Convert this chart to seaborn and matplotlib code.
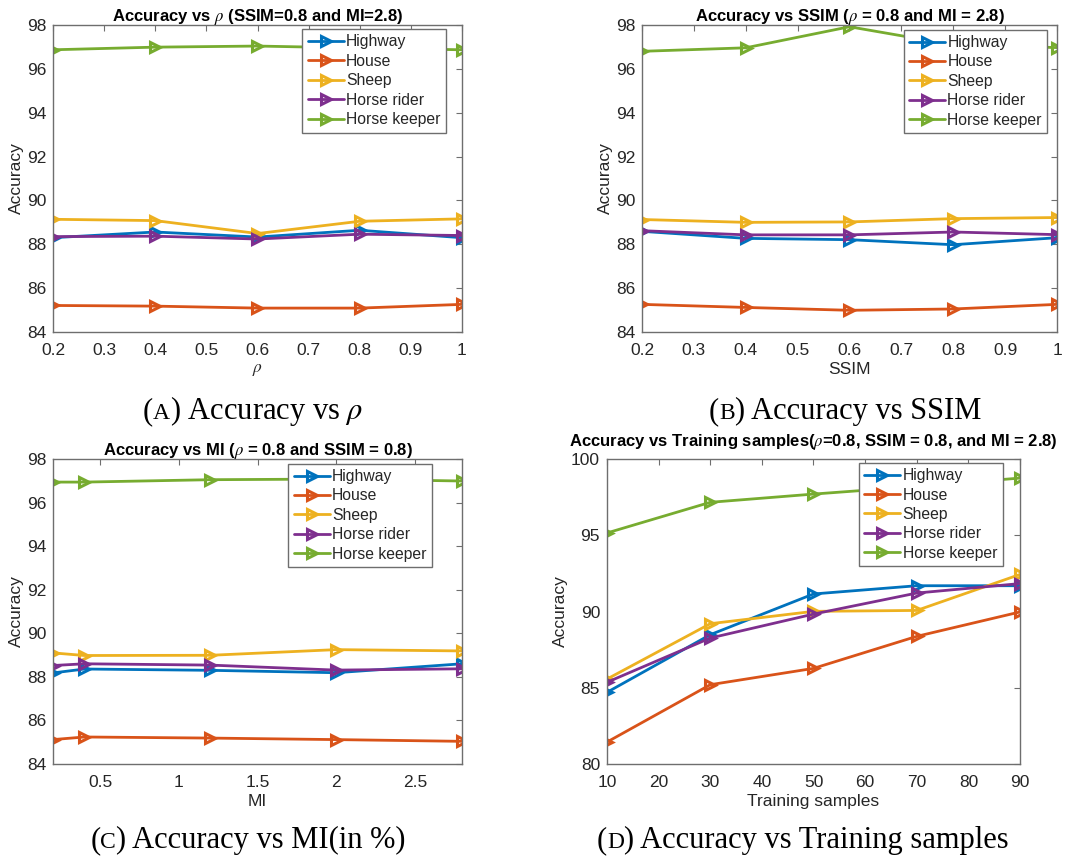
import numpy as np
import pandas as pd
import seaborn as sns
import matplotlib
matplotlib.use("Agg")
import matplotlib.pyplot as plt

# ---------------- data ----------------
series_names = ["Highway", "House", "Sheep", "Horse rider", "Horse keeper"]

rho_x = [0.2, 0.4, 0.6, 0.8, 1.0]
rho_highway = [88.30, 88.56, 88.33, 88.64, 88.30]
rho_house = [85.21, 85.18, 85.09, 85.09, 85.26]
rho_sheep = [89.14, 89.08, 88.49, 89.05, 89.16]
rho_rider = [88.35, 88.37, 88.24, 88.46, 88.40]
rho_keeper = [96.87, 96.99, 97.04, 96.95, 96.87]

ssim_x = [0.2, 0.4, 0.6, 0.8, 1.0]
ssim_highway = [88.59, 88.27, 88.21, 87.98, 88.30]
ssim_house = [85.26, 85.12, 84.99, 85.05, 85.26]
ssim_sheep = [89.13, 89.00, 89.02, 89.17, 89.22]
ssim_rider = [88.62, 88.43, 88.43, 88.56, 88.44]
ssim_keeper = [96.80, 96.96, 97.92, 97.10, 96.97]

mi_x = [0.2, 0.4, 1.2, 2.0, 2.8]
mi_highway = [88.18, 88.36, 88.30, 88.19, 88.60]
mi_house = [85.12, 85.24, 85.19, 85.12, 85.04]
mi_sheep = [89.10, 88.98, 88.99, 89.25, 89.19]
mi_rider = [88.52, 88.60, 88.54, 88.31, 88.37]
mi_keeper = [96.94, 96.94, 97.05, 97.08, 96.99]

ts_x = [10, 30, 50, 70, 90]
ts_highway = [84.70, 88.48, 91.15, 91.69, 91.69]
ts_house = [81.44, 85.20, 86.27, 88.37, 89.97]
ts_sheep = [85.57, 89.20, 90.01, 90.07, 92.43]
ts_rider = [85.36, 88.26, 89.83, 91.21, 91.83]
ts_keeper = [95.15, 97.16, 97.70, 98.20, 98.75]

titles = [
    r"Accuracy vs $\rho$ (SSIM=0.8 and MI=2.8)",
    r"Accuracy vs SSIM ($\rho$ = 0.8 and MI = 2.8)",
    r"Accuracy vs MI ($\rho$ = 0.8 and SSIM = 0.8)",
    r"Accuracy vs Training samples($\rho$=0.8, SSIM = 0.8, and MI = 2.8)",
]
xlabels = [r"$\rho$", "SSIM", "MI", "Training samples"]
captions = [
    ("A", r" Accuracy vs $\rho$"),
    ("B", " Accuracy vs SSIM"),
    ("C", " Accuracy vs MI(in %)"),
    ("D", " Accuracy vs Training samples"),
]

colors = ["#0072BD", "#D95319", "#EDB120", "#7E2F8E", "#77AC30"]

# ---------------- style ----------------
sns.set_theme(style="white")
plt.rcParams["font.family"] = ["Liberation Sans", "DejaVu Sans"]
plt.rcParams["mathtext.fontset"] = "stix"
plt.rcParams["axes.edgecolor"] = "#6e6e6e"
plt.rcParams["xtick.color"] = "#6e6e6e"
plt.rcParams["ytick.color"] = "#6e6e6e"
plt.rcParams["xtick.labelcolor"] = "#262626"
plt.rcParams["ytick.labelcolor"] = "#262626"

fig = plt.figure(figsize=(10.73, 8.59), dpi=100)
W, H = 1073, 859


def ax_at(x0, y0, x1, y1):
    return fig.add_axes([x0 / W, 1 - y1 / H, (x1 - x0) / W, (y1 - y0) / H])


axes = [
    ax_at(53, 25, 462, 332),
    ax_at(642, 25, 1057, 332),
    ax_at(53, 459, 462, 764),
    ax_at(607, 459, 1020, 764),
]

panels = [
    (rho_x, [rho_highway, rho_house, rho_sheep, rho_rider, rho_keeper]),
    (ssim_x, [ssim_highway, ssim_house, ssim_sheep, ssim_rider, ssim_keeper]),
    (mi_x, [mi_highway, mi_house, mi_sheep, mi_rider, mi_keeper]),
    (ts_x, [ts_highway, ts_house, ts_sheep, ts_rider, ts_keeper]),
]

MS = 7.5
MEW = 2.2
title_pads = [3, 3, 3, 9]
anchors = [(0.961, 0.987), (0.977, 0.985), (0.927, 0.985), (0.958, 0.988)]

for i, (ax, (xs, ys_list)) in enumerate(zip(axes, panels)):
    rows = []
    for name, ys in zip(series_names, ys_list):
        for xv, yv in zip(xs, ys):
            rows.append({"x": xv, "Accuracy": yv, "series": name})
    df = pd.DataFrame(rows)
    sns.lineplot(
        data=df, x="x", y="Accuracy", hue="series", hue_order=series_names,
        palette=colors, marker=">", markersize=MS, markerfacecolor="none",
        markeredgewidth=MEW, linewidth=2.0, ax=ax, legend=True,
    )
    for line, c in zip(ax.get_lines(), colors):
        line.set_markeredgecolor(c)
        line.set_markerfacecolor("none")
    ax.set_title(titles[i], fontsize=12, fontweight="bold", color="black",
                 pad=title_pads[i])
    ax.set_xlabel(xlabels[i], fontsize=12.5, color="#262626", labelpad=3)
    ax.set_ylabel("Accuracy", fontsize=12.5, color="#262626", labelpad=2)
    if i < 2:
        ax.set_xlim(0.2, 1.0)
        ax.set_xticks(np.arange(0.2, 1.01, 0.1))
        ax.set_xticklabels(["0.2", "0.3", "0.4", "0.5", "0.6", "0.7", "0.8", "0.9", "1"])
    elif i == 2:
        ax.set_xlim(0.2, 2.8)
        ax.set_xticks([0.5, 1.0, 1.5, 2.0, 2.5])
        ax.set_xticklabels(["0.5", "1", "1.5", "2", "2.5"])
    else:
        ax.set_xlim(10, 90)
        ax.set_xticks(range(10, 91, 10))
    if i < 3:
        ax.set_ylim(84, 98)
        ax.set_yticks(range(84, 99, 2))
    else:
        ax.set_ylim(80, 100)
        ax.set_yticks(range(80, 101, 5))
    ax.tick_params(direction="in", length=4, width=0.8, top=True, right=True,
                   labelsize=12.5)
    ax.tick_params(axis="x", pad=8)
    ax.tick_params(axis="y", pad=5)
    for sp in ax.spines.values():
        sp.set_linewidth(1.0)
    # legend
    handles, labels = ax.get_legend_handles_labels()
    for h, c in zip(handles, colors):
        h.set_color(c)
        h.set_marker(">")
        h.set_markersize(MS)
        h.set_markerfacecolor("none")
        h.set_markeredgecolor(c)
        h.set_markeredgewidth(MEW)
        h.set_linewidth(2.0)
    leg = ax.legend(handles, labels, loc="upper right", bbox_to_anchor=anchors[i],
                    fontsize=11.3, frameon=True, fancybox=False, handlelength=2.3,
                    handletextpad=0.15, borderpad=0.35, labelspacing=0.28,
                    borderaxespad=0.0)
    leg.get_frame().set_edgecolor("#6e6e6e")
    leg.get_frame().set_linewidth(1.0)
    leg.get_frame().set_alpha(1.0)
    for t in leg.get_texts():
        t.set_color("#262626")

# ---------------- captions with small caps ----------------
cap_pos = [(253, 419), (845, 419), (248, 848), (803, 848)]
fig.canvas.draw()
renderer = fig.canvas.get_renderer()
serif = ["Liberation Serif", "DejaVu Serif"]
for (letter, rest), (cx, cy) in zip(captions, cap_pos):
    parts = [("(", 22), (letter, 17), (")" + rest, 22)]
    texts = []
    for s, fs in parts:
        t = fig.text(0, 1 - cy / H, s, fontsize=fs, family=serif, color="black",
                     va="baseline", ha="left")
        texts.append(t)
    widths = [t.get_window_extent(renderer).width for t in texts]
    total = sum(widths)
    x = cx - total / 2
    for t, w in zip(texts, widths):
        t.set_x(x / W)
        x += w

fig.savefig("out.png", dpi=100, facecolor="white")
